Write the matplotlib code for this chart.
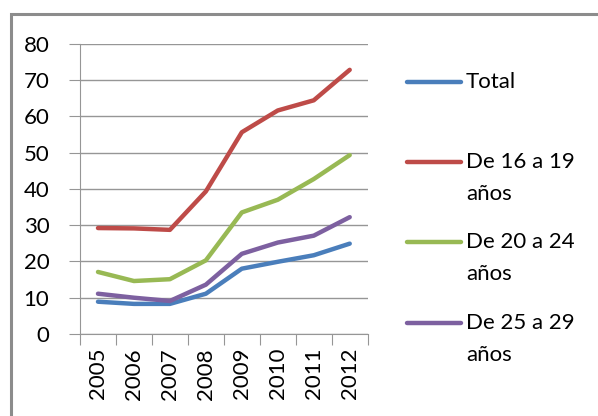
import matplotlib.pyplot as plt
from matplotlib.lines import Line2D
from matplotlib.patches import Rectangle

years = ["2005", "2006", "2007", "2008", "2009", "2010", "2011", "2012"]
total = [8.9, 8.3, 8.3, 11.1, 18.0, 19.9, 21.7, 24.9]
de16a19 = [29.2, 29.1, 28.7, 39.3, 55.6, 61.6, 64.4, 72.8]
de20a24 = [17.1, 14.6, 15.1, 20.3, 33.5, 37.0, 42.7, 49.3]
de25a29 = [11.1, 10.0, 9.1, 13.6, 22.1, 25.2, 27.1, 32.2]

labels = ["Total", "De 16 a 19\naños", "De 20 a 24\naños", "De 25 a 29\naños"]
colors = ["#4A7EBB", "#BE4B48", "#98B954", "#7D60A0"]
series = [total, de16a19, de20a24, de25a29]

plt.rcParams['font.family'] = ['Lato', 'DejaVu Sans']
fig = plt.figure(figsize=(5.98, 4.16), dpi=100)
fig.patches.append(Rectangle((11 / 598, -0.1), 1.2, 1 - 13.5 / 416 + 0.1,
                             transform=fig.transFigure, fill=False,
                             edgecolor="#8c8c8c", linewidth=2.2))

ax = fig.add_axes([80 / 598, 1 - 334 / 416, 287.7 / 598, 290.3 / 416])
x = list(range(len(years)))
for vals, c in zip(series, colors):
    ax.plot(x, vals, color=c, linewidth=3.2, solid_capstyle="round")

ax.set_xlim(-0.5, len(years) - 0.5)
ax.set_ylim(0, 80)
ax.set_yticks(range(0, 81, 10))
ax.yaxis.grid(True, color="#969696", linewidth=1)
ax.set_axisbelow(True)
ax.set_xticks([i - 0.5 for i in range(len(years) + 1)])
ax.set_xticklabels([])
ax.set_xticks(x, minor=True)
ax.set_xticklabels(years, minor=True, rotation=90, fontsize=16)
ax.tick_params(axis="x", which="minor", length=0, pad=10)
ax.tick_params(axis="x", which="major", length=8, color="#969696")
ax.tick_params(axis="y", length=8, color="#969696", labelsize=16, pad=14)
for s in ["top", "right"]:
    ax.spines[s].set_visible(False)
for s in ["left", "bottom"]:
    ax.spines[s].set_color("#969696")

# legend drawn by hand so the key sits on the first text line
legend_y = [81.5, 162, 242, 323]
for lab, c, ly in zip(labels, colors, legend_y):
    yf = 1 - ly / 416
    fig.add_artist(Line2D([407 / 598, 461 / 598], [yf, yf], color=c,
                          linewidth=3.2, solid_capstyle="round",
                          transform=fig.transFigure))
    fig.text(466 / 598, yf + 0.024, lab, va="top", ha="left", fontsize=16,
             linespacing=1.75, transform=fig.transFigure)

fig.savefig("out.png", dpi=100)
